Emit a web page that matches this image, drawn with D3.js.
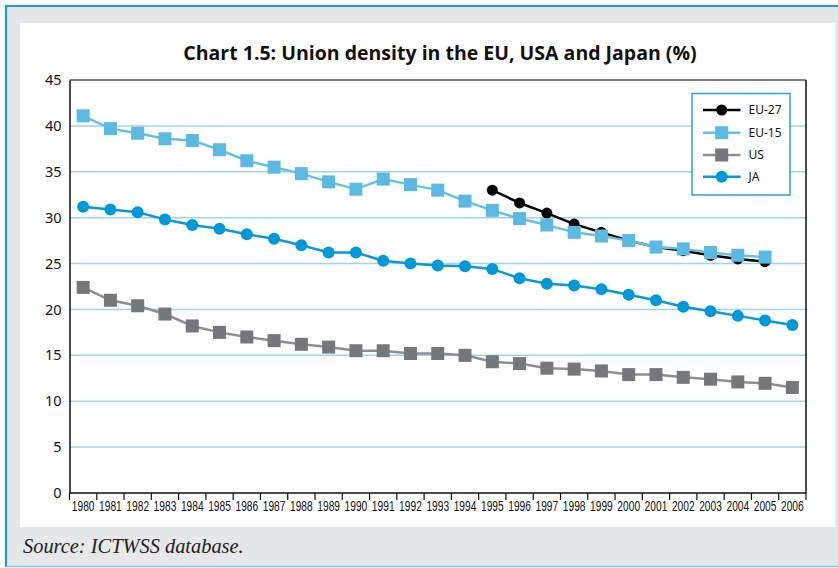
<!DOCTYPE html>
<html>
<head>
<meta charset="utf-8">
<script src="https://cdn.jsdelivr.net/npm/d3@7"></script>
<style>
  html, body { margin: 0; padding: 0; background: #ffffff; }
  svg { display: block; }
</style>
</head>
<body>
<div id="visualization"></div>
<script>
// categories (x axis)
const years = ["1980", "1981", "1982", "1983", "1984", "1985", "1986", "1987", "1988",
  "1989", "1990", "1991", "1992", "1993", "1994", "1995", "1996", "1997", "1998",
  "1999", "2000", "2001", "2002", "2003", "2004", "2005", "2006"];

// series values (%), null = no data
const eu27 = [null, null, null, null, null, null, null, null, null, null, null, null, null,
  null, null, 33.0, 31.6, 30.5, 29.3, 28.4, 27.5, 26.8, 26.4, 25.9, 25.5, 25.2, null];
const eu15 = [41.1, 39.7, 39.2, 38.6, 38.4, 37.4, 36.2, 35.5, 34.8, 33.9, 33.1, 34.2, 33.6,
  33.0, 31.8, 30.8, 29.9, 29.2, 28.4, 28.0, 27.5, 26.8, 26.6, 26.2, 25.9, 25.7, null];
const us = [22.4, 21.0, 20.4, 19.5, 18.2, 17.5, 17.0, 16.6, 16.2, 15.9, 15.5, 15.5, 15.2,
  15.2, 15.0, 14.3, 14.1, 13.6, 13.5, 13.3, 12.9, 12.9, 12.6, 12.4, 12.1, 11.95, 11.5];
const ja = [31.2, 30.9, 30.6, 29.8, 29.2, 28.8, 28.2, 27.7, 27.0, 26.2, 26.2, 25.3, 25.0,
  24.8, 24.7, 24.4, 23.4, 22.8, 22.6, 22.2, 21.6, 21.0, 20.3, 19.8, 19.3, 18.8, 18.3];

// y tick labels
const yTicks = [0, 5, 10, 15, 20, 25, 30, 35, 40, 45];

const title = "Chart 1.5: Union density in the EU, USA and Japan (%)";
const source = "Source: ICTWSS database.";

// series table for drawing (drawn in this order)
const series = [
  { name: "EU-27", values: eu27, shape: "circle", line: "#000000", fill: "#000000", size: 5.5 },
  { name: "EU-15", values: eu15, shape: "square", line: "#69c0e5", fill: "#5bb9e2", size: 13 },
  { name: "US", values: us, shape: "square", line: "#8e8e91", fill: "#76777b", size: 13 },
  { name: "JA", values: ja, shape: "circle", line: "#0a98d6", fill: "#0098d8", size: 6 }
];

const width = 838;
const height = 568;
const margin = { top: 80, right: 32, bottom: 75, left: 69.5 };

d3.select("#visualization").selectAll("*").remove();

const svg = d3.select("#visualization")
  .append("svg")
  .attr("width", width)
  .attr("height", height);

// frame: blue border, grey panel, white chart area
svg.append("rect").attr("x", 6).attr("y", 6).attr("width", width - 6).attr("height", 560)
  .attr("fill", "#e6e7e8");
svg.append("line").attr("x1", 6).attr("x2", width).attr("y1", 6).attr("y2", 6)
  .attr("stroke", "#1b9bd7").attr("stroke-width", 2.2);
svg.append("line").attr("x1", 6).attr("x2", 6).attr("y1", 5).attr("y2", 567)
  .attr("stroke", "#1b9bd7").attr("stroke-width", 2.2);
svg.append("line").attr("x1", 6).attr("x2", width).attr("y1", 566.5).attr("y2", 566.5)
  .attr("stroke", "#8fbde0").attr("stroke-width", 1.5);
svg.append("rect").attr("x", 20).attr("y", 23).attr("width", 815).attr("height", 504)
  .attr("fill", "#ffffff");

// title
svg.append("text")
  .attr("x", 440)
  .attr("y", 60)
  .attr("text-anchor", "middle")
  .style("font-family", "'Open Sans', 'Noto Sans', sans-serif")
  .style("font-weight", "bold")
  .style("font-size", "19.5px")
  .attr("fill", "#111")
  .text(title);

// source note
svg.append("text")
  .attr("x", 23)
  .attr("y", 553)
  .style("font-family", "'Liberation Serif', 'DejaVu Serif', serif")
  .style("font-style", "italic")
  .style("font-size", "20.4px")
  .attr("fill", "#222")
  .text(source);

// scales
const x = d3.scaleBand()
  .domain(years)
  .range([margin.left, width - margin.right]);

const y = d3.scaleLinear()
  .domain([0, 45])
  .range([height - margin.bottom, margin.top]);

// gridlines
svg.append("g")
  .selectAll("line")
  .data(yTicks.filter(d => d > 0 && d < 45))
  .join("line")
  .attr("x1", x.range()[0])
  .attr("x2", x.range()[1])
  .attr("y1", d => y(d))
  .attr("y2", d => y(d))
  .attr("stroke", "#9fd4ec")
  .attr("stroke-width", 1.5);

// top and right frame
svg.append("line")
  .attr("x1", x.range()[0]).attr("x2", x.range()[1])
  .attr("y1", y(45)).attr("y2", y(45))
  .attr("stroke", "#555").attr("stroke-width", 1.3);
svg.append("line")
  .attr("x1", x.range()[1]).attr("x2", x.range()[1])
  .attr("y1", y(45)).attr("y2", y(0))
  .attr("stroke", "#111").attr("stroke-width", 1.5);

// y axis
const yAxis = svg.append("g")
  .attr("transform", `translate(${margin.left},0)`)
  .call(d3.axisLeft(y).tickValues(yTicks).tickSize(0).tickPadding(8));
yAxis.select(".domain").attr("stroke", "#111").attr("stroke-width", 1.5);
yAxis.selectAll("text")
  .style("font-family", "'Noto Sans', 'Open Sans', sans-serif")
  .style("font-size", "14.5px")
  .attr("fill", "#111");

// x axis: labels centred in bands, ticks on band edges
const xAxis = svg.append("g")
  .attr("transform", `translate(0,${y(0)})`)
  .call(d3.axisBottom(x).tickSize(0).tickPadding(8));
xAxis.select(".domain").remove();
// squeeze labels horizontally to mimic the condensed face
xAxis.selectAll("text")
  .style("font-family", "'Liberation Sans', 'Arial', sans-serif")
  .style("font-size", "14px")
  .attr("transform", "scale(0.73,1)")
  .attr("fill", "#111");

svg.append("line")
  .attr("x1", x.range()[0]).attr("x2", x.range()[1])
  .attr("y1", y(0)).attr("y2", y(0))
  .attr("stroke", "#111").attr("stroke-width", 1.5);

svg.append("g")
  .selectAll("line")
  .data(years.map(d => x(d)).concat([x.range()[1]]))
  .join("line")
  .attr("x1", d => d).attr("x2", d => d)
  .attr("y1", y(0)).attr("y2", y(0) + 7)
  .attr("stroke", "#111")
  .attr("stroke-width", 1.2);

// lines and markers
const line = d3.line()
  .defined(d => d.v != null)
  .x(d => x(d.year) + x.bandwidth() / 2)
  .y(d => y(d.v));

function drawMarker(g, s, cx, cy) {
  if (s.shape === "circle") {
    g.append("circle").attr("cx", cx).attr("cy", cy).attr("r", s.size).attr("fill", s.fill);
  } else {
    g.append("rect")
      .attr("x", cx - s.size / 2).attr("y", cy - s.size / 2)
      .attr("width", s.size).attr("height", s.size)
      .attr("fill", s.fill);
  }
}

series.forEach(s => {
  const pts = years.map((year, i) => ({ year, v: s.values[i] }));
  const g = svg.append("g");
  g.append("path")
    .datum(pts)
    .attr("fill", "none")
    .attr("stroke", s.line)
    .attr("stroke-width", 2.5)
    .attr("d", line);
  pts.filter(d => d.v != null).forEach(d => {
    drawMarker(g, s, x(d.year) + x.bandwidth() / 2, y(d.v));
  });
});

// legend
const legend = svg.append("g");
legend.append("rect")
  .attr("x", 692).attr("y", 93.5).attr("width", 98).attr("height", 101.5)
  .attr("fill", "#ffffff")
  .attr("stroke", "#2ba3da")
  .attr("stroke-width", 1.5);

const legendRows = [110, 132.7, 155, 176.7];
series.forEach((s, i) => {
  const ly = legendRows[i];
  const g = legend.append("g");
  g.append("line")
    .attr("x1", 703).attr("x2", 740.5)
    .attr("y1", ly).attr("y2", ly)
    .attr("stroke", s.line).attr("stroke-width", 2.5);
  drawMarker(g, s, 721.7, ly);
  g.append("text")
    .attr("x", 748.5)
    .attr("y", ly)
    .attr("dy", "0.35em")
    .style("font-family", "'Noto Sans', 'Open Sans', sans-serif")
    .style("font-size", "12px")
    .attr("fill", "#111")
    .text(s.name);
});
</script>
</body>
</html>
